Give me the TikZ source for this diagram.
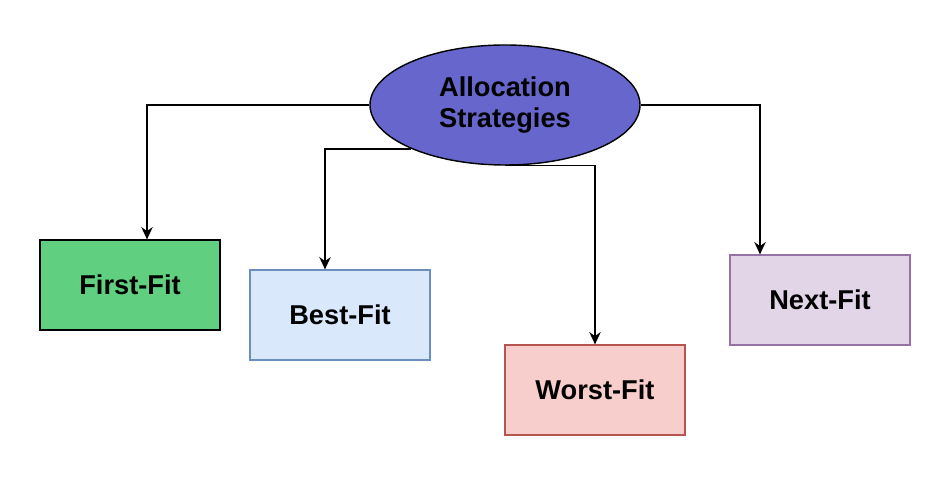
\documentclass[tikz,border=0pt]{standalone}
\usepackage{fontspec}
\setmainfont{Liberation Sans}
\usetikzlibrary{shapes.geometric,arrows.meta}
\definecolor{stratfill}{RGB}{102,102,204}
\definecolor{firstfill}{RGB}{96,208,128}
\definecolor{bestfill}{RGB}{218,232,252}
\definecolor{bestline}{RGB}{108,142,191}
\definecolor{worstfill}{RGB}{248,206,204}
\definecolor{worstline}{RGB}{184,84,80}
\definecolor{nextfill}{RGB}{225,213,231}
\definecolor{nextline}{RGB}{150,115,166}
\begin{document}
\begin{tikzpicture}[font=\fontsize{15.5}{17.5}\selectfont\bfseries]
			\tikzstyle{strategy}=[rectangle,minimum width=3.6cm,minimum height=1.8cm,line width=0.7pt]
			\tikzstyle{link}=[line width=0.85pt,-{Stealth[length=7pt,width=6.5pt]}]
			\useasboundingbox (0,0) rectangle (18.84,-9.74);
			\node[ellipse,draw,fill=stratfill,line width=0.8pt,minimum width=5.4cm,minimum height=2.4cm,align=center,yshift=-0.05cm](strat) at (10.1,-2.05){Allocation\\Strategies};
			\node[strategy,draw=black,fill=firstfill](first) at (2.6,-5.7){First-Fit};
			\node[strategy,draw=bestline,fill=bestfill](best) at (6.8,-6.3){Best-Fit};
			\node[strategy,draw=worstline,fill=worstfill](worst) at (11.9,-7.8){Worst-Fit};
			\node[strategy,draw=nextline,fill=nextfill](next) at (16.4,-6.0){Next-Fit};
			
			\draw[link] (strat.west) -| ([xshift=0.34cm]first.north);
			\draw[link] (strat.205) -| ([xshift=-0.3cm]best.north);
			\draw[link] (strat.south) -| (worst.north);
			\draw[link] (strat.east) -| ([xshift=-1.2cm]next.north);
			\end{tikzpicture}
\end{document}
